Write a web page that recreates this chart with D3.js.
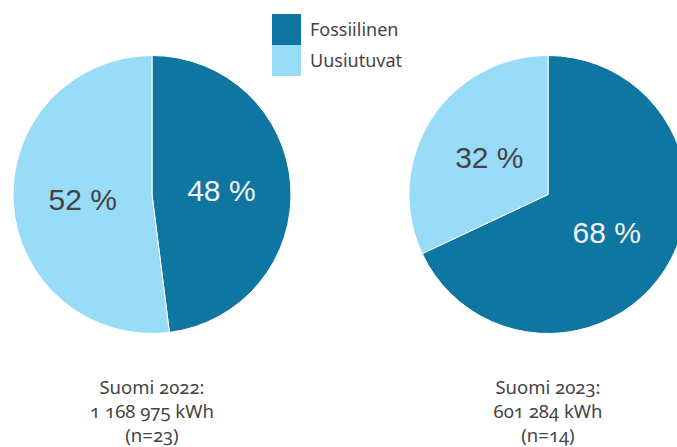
<!DOCTYPE html>
<html>
<head>
<meta charset="utf-8">
<script src="https://cdn.jsdelivr.net/npm/d3@7"></script>
<style>
  html, body { margin: 0; padding: 0; background: #ffffff; }
  svg { display: block; }
  .cap { font-family: "Noto Sans", "Open Sans", sans-serif; font-variant-numeric: oldstyle-nums; font-feature-settings: "onum" 1; }
</style>
</head>
<body>
<svg id="chart" width="677" height="447"></svg>
<script>
// Energy source shares, Finland
const categories = ["Fossiilinen", "Uusiutuvat"];
const colors = ["#0e76a1", "#98dcf8"];
const labelColors = ["#f2f2f2", "#444444"];
const share2022 = [48, 52];
const share2023 = [68, 32];
const captions2022 = ["Suomi 2022:", "1 168 975 kWh", "(n=23)"];
const captions2023 = ["Suomi 2023:", "601 284 kWh", "(n=14)"];

const svg = d3.select("#chart");
const radius = 139;

const pie = d3.pie().sort(null).value(d => d);
const arc = d3.arc().innerRadius(0).outerRadius(radius);
const labelArc = d3.arc().innerRadius(radius * 0.5).outerRadius(radius * 0.5);
const color = d3.scaleOrdinal().domain(d3.range(categories.length)).range(colors);

function drawPie(values, cx, cy, captions) {
  const g = svg.append("g").attr("transform", `translate(${cx},${cy})`);
  const arcs = pie(values);
  g.selectAll("path.slice")
    .data(arcs)
    .join("path")
    .attr("class", "slice")
    .attr("d", arc)
    .attr("fill", (d, i) => color(i))
    .attr("stroke", "#ffffff")
    .attr("stroke-width", 1);

  g.selectAll("text.pct")
    .data(arcs)
    .join("text")
    .attr("class", "pct")
    .attr("transform", d => `translate(${labelArc.centroid(d)})`)
    .attr("text-anchor", "middle")
    .attr("dy", "0.36em")
    .attr("font-family", "'Liberation Sans', Arial, sans-serif")
    .attr("font-size", 30)
    .attr("fill", (d, i) => labelColors[i])
    .text(d => d.data + " %");

  const cap = svg.append("text")
    .attr("class", "cap")
    .attr("x", cx)
    .attr("y", 394)
    .attr("text-anchor", "middle")
    .attr("font-size", 18.5)
    .attr("fill", "#444444");
  cap.selectAll("tspan")
    .data(captions)
    .join("tspan")
    .attr("x", cx)
    .attr("dy", (d, i) => i === 0 ? 0 : 24)
    .text(d => d);
}

drawPie(share2022, 152, 194.5, captions2022);
drawPie(share2023, 548, 194.5, captions2023);

// Legend
const legend = svg.append("g").attr("transform", "translate(272,14)");
const item = legend.selectAll("g")
  .data(categories)
  .join("g")
  .attr("transform", (d, i) => `translate(0,${i * 31})`);
item.append("rect")
  .attr("width", 29)
  .attr("height", 31)
  .attr("fill", (d, i) => color(i));
item.append("text")
  .attr("x", 38)
  .attr("y", 22)
  .attr("font-family", "'Noto Sans', sans-serif")
  .attr("font-size", 18)
  .attr("fill", "#444444")
  .text(d => d);
</script>
</body>
</html>
